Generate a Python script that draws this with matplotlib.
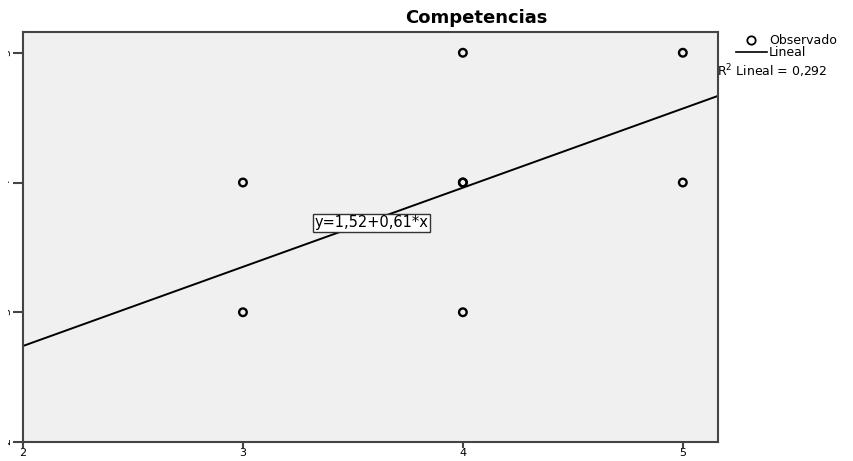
import numpy as np
import matplotlib
matplotlib.use('Agg')
import matplotlib.pyplot as plt
from matplotlib.transforms import Bbox, TransformedBbox

plt.rcParams['font.family'] = ['DejaVu Sans']

# observed points
obs_x = [3, 3, 4, 4, 4, 4, 5, 5]
obs_y = [3, 4, 5, 4, 4, 3, 5, 4]
b0, b1 = 1.52, 0.61
r2 = 0.292
xticks = [2, 3, 4, 5]
yticks = [2, 3, 4, 5]

W, H = 854, 461
fig = plt.figure(figsize=(W / 100, H / 100), dpi=100)
ax = fig.add_axes([23 / W, 1 - 442 / H, (718 - 23) / W, (442 - 32) / H])
ax.set_facecolor('#f0f0f0')

ax.set_xlim(2, 5.16)
ax.set_ylim(2, 5.16)

xl = np.array([2, 5.16])
ax.plot(xl, b0 + b1 * xl, color='black', lw=1.4, zorder=2)
ax.scatter(obs_x, obs_y, s=30, facecolors='none', edgecolors='black',
           linewidths=1.7, zorder=3)

ax.text(3.584, 3.688, 'y=1,52+0,61*x', fontsize=10.5, ha='center', va='center',
        bbox=dict(boxstyle='square,pad=0.12', fc='white', ec='#333333', lw=1))

ax.set_xticks(xticks)
ax.set_yticks(yticks)
ax.tick_params(axis='x', length=4, width=1.5, color='#444444', labelsize=8, pad=0.5)
ax.tick_params(axis='y', length=7.5, width=1.5, color='#444444', labelsize=8,
               pad=0.5, labelrotation=90)
for s in ax.spines.values():
    s.set_color('#444444')
    s.set_linewidth(1.5)

# y tick labels are mostly cut off in the original
clip = TransformedBbox(Bbox([[8 / W, 0], [14 / W, 1]]), fig.transFigure)
for lab in ax.get_yticklabels():
    lab.set_clip_on(True)
    lab.set_clip_box(clip)

fig.text(476 / W, 1 - 18 / H, 'Competencias', fontsize=13, fontweight='bold',
         ha='center', va='center')

# legend outside
fig.lines.append(plt.Line2D([751 / W], [1 - 40 / H], transform=fig.transFigure,
                            marker='o', ms=6, mfc='none', mec='black', mew=1.3, ls='none'))
fig.lines.append(plt.Line2D([736 / W, 767 / W], [1 - 52 / H, 1 - 52 / H],
                            transform=fig.transFigure, color='black', lw=1.2))
fig.text(769 / W, 1 - 40 / H, 'Observado', fontsize=9, va='center')
fig.text(769 / W, 1 - 52 / H, 'Lineal', fontsize=9, va='center')
fig.text(717 / W, 1 - 71 / H, 'R$^2$ Lineal = 0,292', fontsize=9, va='center')

fig.savefig('out.png', dpi=100)
